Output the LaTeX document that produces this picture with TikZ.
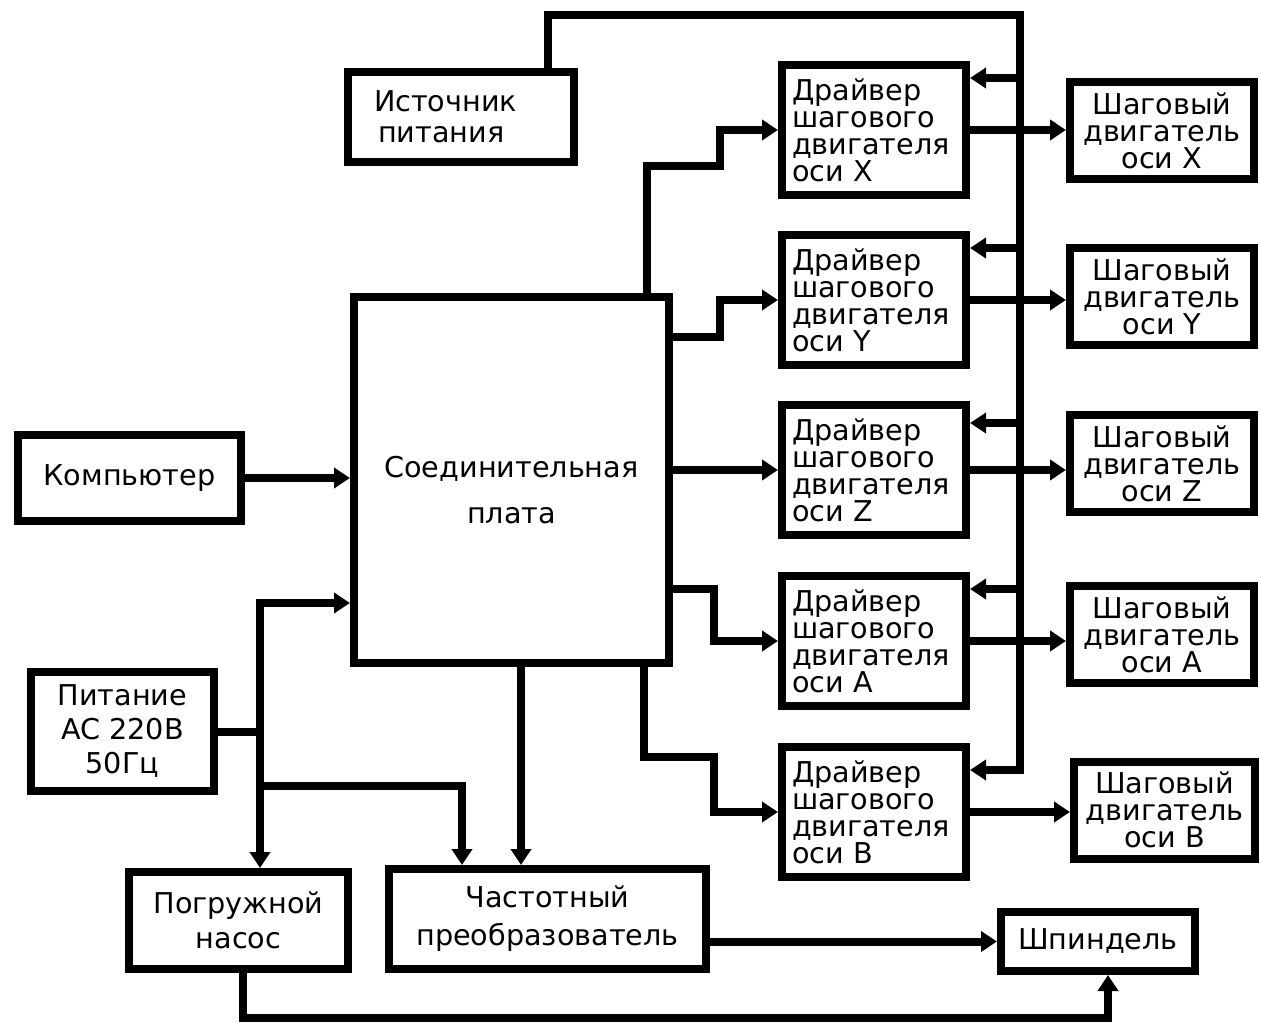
\documentclass[tikz,border=0pt]{standalone}
\usepackage{fontspec}
\setmainfont{DejaVu Sans}
\usetikzlibrary{arrows.meta}
\newcommand\myfs[1]{\fontsize{21.5pt}{#1}\selectfont}
\begin{document}
\begin{tikzpicture}[x=0.75pt,y=-0.75pt,
  >={Triangle[length=12pt,width=15pt]},
  blk/.style={draw,line width=6pt,inner sep=0pt,align=center,font=\myfs{20.25pt}},
  drvbox/.style={blk,minimum width=138pt,minimum height=97.5pt,text width=123pt,align=left},
  stepbox/.style={blk,minimum width=138pt,minimum height=72.75pt},
  conn/.style={line width=6pt},
  arrline/.style={line width=6pt,->}]
\useasboundingbox (0,0) rectangle (1261,1023);
\fill[white] (0,0) rectangle (1261,1023);

% nodes
\node[blk,minimum width=169.5pt,minimum height=67.5pt,text width=130.5pt,align=left,font=\myfs{23.25pt}] (src) at (461,117) {Источник\\\hspace{3pt}питания};
\node[blk,minimum width=236.25pt,minimum height=274.5pt,font=\myfs{34.5pt}] (pl) at (511.5,480) {\rule{0pt}{31pt}Соединительная\\плата};
\node[blk,minimum width=167.25pt,minimum height=64.5pt] (pc) at (129.5,478) {Компьютер};
\node[blk,minimum width=137.25pt,minimum height=89.25pt,font=\myfs{25.5pt}] (pw) at (122.5,731.5) {Питание\\AC 220В\\50Гц};
\node[blk,minimum width=164.25pt,minimum height=72.75pt,font=\myfs{26.25pt}] (pump) at (238.5,920.5) {Погружной\\насос};
\node[blk,minimum width=237.75pt,minimum height=75pt,font=\myfs{28.5pt}] (fr) at (547.5,919) {Частотный\\преобразователь};
\node[blk,minimum width=145.5pt,minimum height=44.25pt] (sp) at (1098,941.5) {Шпиндель};

\node[drvbox] (dX) at (874,130) {Драйвер\\шагового\\двигателя\\оси X};
\node[drvbox] (dY) at (874,300) {Драйвер\\шагового\\двигателя\\оси Y};
\node[drvbox] (dZ) at (874,470) {Драйвер\\шагового\\двигателя\\оси Z};
\node[drvbox] (dA) at (874,641) {Драйвер\\шагового\\двигателя\\оси A};
\node[drvbox] (dB) at (874,812) {Драйвер\\шагового\\двигателя\\оси B};

\node[stepbox] (sX) at (1162,130.5) {Шаговый\\двигатель\\оси X};
\node[stepbox] (sY) at (1162,296.5) {Шаговый\\двигатель\\оси Y};
\node[stepbox] (sZ) at (1162,463.5) {Шаговый\\двигатель\\оси Z};
\node[stepbox] (sA) at (1162,634.5) {Шаговый\\двигатель\\оси A};
\node[stepbox,minimum width=135.75pt] (sB) at (1164.5,810) {Шаговый\\двигатель\\оси B};

% power bus
\coordinate (t1) at (548,15);
\coordinate (t2) at (1020,15);
\coordinate (bX) at (1020,78);
\coordinate (bY) at (1020,248);
\coordinate (bZ) at (1020,423);
\coordinate (bA) at (1020,589);
\coordinate (bB) at (1020,770);
\draw[arrline] (src.north -| t1) -- (t1) -- (t2) -- (bB) -- (bB -| dB.east);
\foreach \d in {X,Y,Z,A} \draw[arrline] (b\d) -- (b\d -| d\d.east);

% drivers to steppers
\foreach \d in {X,Y,Z,A,B} \draw[arrline] (d\d.east) -- (d\d.east -| s\d.west);

% plate to drivers
\coordinate (x1) at (647,166);
\coordinate (x2) at (720,166);
\draw[arrline] (x1 |- pl.north) -- (x1) -- (x2) |- (dX.west);
\coordinate (y1) at (720,337);
\draw[arrline] (y1 -| pl.east) -- (y1) |- (dY.west);
\draw[arrline] (dZ.west -| pl.east) -- (dZ.west);
\coordinate (a1) at (714,589);
\draw[arrline] (a1 -| pl.east) -- (a1) |- (dA.west);
\coordinate (b1) at (644,757);
\coordinate (b2) at (714,757);
\draw[arrline] (b1 |- pl.south) -- (b1) -- (b2) |- (dB.west);

% left side
\draw[arrline] (pc.east) -- (pc.east -| pl.west);
\coordinate (p1) at (260,603);
\draw[conn,<->] (p1 |- pump.north) -- (p1) -- (p1 -| pl.west);
\draw[conn] (pw.east) -- (pw.east -| p1);
\coordinate (p2) at (260,786);
\coordinate (p3) at (462,786);
\draw[arrline] (p2) -- (p3) -- (p3 |- fr.north);
\coordinate (p4) at (521,700);
\draw[arrline] (p4 |- pl.south) -- (p4 |- fr.north);

% spindle
\draw[arrline] (sp.west -| fr.east) -- (sp.west);
\coordinate (q1) at (243,1018);
\coordinate (q2) at (1108,1018);
\draw[arrline] (q1 |- pump.south) -- (q1) -- (q2) -- (q2 |- sp.south);
\end{tikzpicture}
\end{document}
